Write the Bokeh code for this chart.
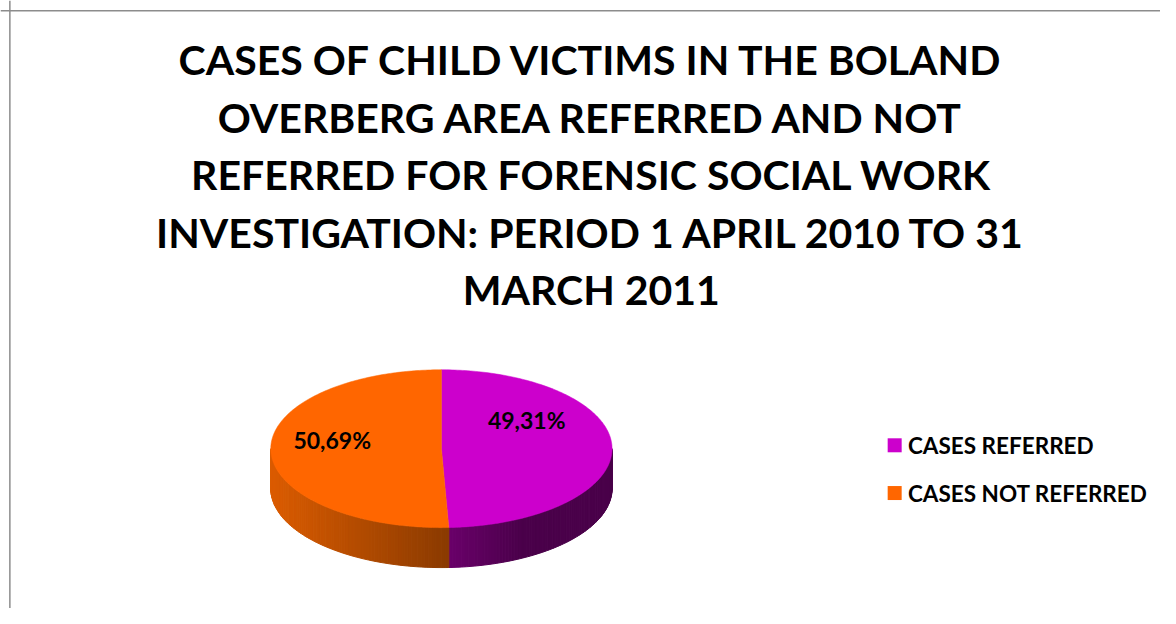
import numpy as np
from bokeh.plotting import figure
from bokeh.models import Range1d, ColumnDataSource, Span
from bokeh.core.properties import value
from bokeh.embed import file_html
from bokeh.resources import INLINE

# ---------------- data ----------------
TITLE_LINES = [
    "CASES OF CHILD VICTIMS IN THE BOLAND",
    "OVERBERG AREA REFERRED AND NOT",
    "REFERRED FOR FORENSIC SOCIAL WORK",
    "INVESTIGATION: PERIOD 1 APRIL 2010 TO 31",
    "MARCH 2011",
]
CATEGORIES = ["CASES REFERRED", "CASES NOT REFERRED"]
PERCENTAGES = [49.31, 50.69]

# ---------------- style ----------------
TOP_COLORS = ["#CC00CC", "#FF6600"]
SIDE_DARK = ["#4A004A", "#8A3A00"]
SIDE_LIGHT = ["#6A006A", "#DB5C00"]
FONT = "Lato"

W, H = 1160, 608
p = figure(width=W, height=H, output_backend="svg", toolbar_location=None,
           x_range=Range1d(0, 1176), y_range=Range1d(624, 0),
           min_border=0, outline_line_color=None)
p.axis.visible = False
p.grid.visible = False
p.background_fill_color = "white"
p.border_fill_color = "white"

# chart frame (left and top edges visible)
p.add_layout(Span(location=9.5, dimension="height", line_color="#8C8C8C", line_width=1.5))
p.add_layout(Span(location=10.5, dimension="width", line_color="#8C8C8C", line_width=1.5))

# ---------------- title ----------------
title_src = ColumnDataSource(dict(
    x=[599] * len(TITLE_LINES),
    y=[61 + 59 * i for i in range(len(TITLE_LINES))],
    t=TITLE_LINES))
p.text(x="x", y="y", text="t", source=title_src, text_font=value(FONT),
       text_font_style="bold", text_font_size="41px", text_align="center",
       text_baseline="middle", text_color="black")

# ---------------- 3D pie ----------------
cx, cy, a, b, depth = 447.0, 460.0, 173.0, 81.0, 41.0
vals = np.array(PERCENTAGES, dtype=float)
fr = vals / vals.sum()
ends = np.cumsum(fr) * 2 * np.pi
starts = np.concatenate([[0.0], ends[:-1]])

def ex(t):
    return cx + a * np.sin(t)

def ey(t, dy=0.0):
    return cy - b * np.cos(t) + dy

def lerp_col(c1, c2, f):
    c1 = [int(c1[i:i + 2], 16) for i in (1, 3, 5)]
    c2 = [int(c2[i:i + 2], 16) for i in (1, 3, 5)]
    return "#%02x%02x%02x" % tuple(int(round(u + (v - u) * f)) for u, v in zip(c1, c2))

# side walls (front half only), shaded strips
xs_s, ys_s, cols_s = [], [], []
for i in range(len(vals)):
    t0 = max(starts[i], np.pi / 2)
    t1 = min(ends[i], 3 * np.pi / 2)
    if t1 <= t0:
        continue
    n = 80
    ts = np.linspace(t0, t1, n + 1)
    xmin, xmax = min(ex(t0), ex(t1)), max(ex(t0), ex(t1))
    for k in range(n):
        ta, tb = ts[k], ts[k + 1]
        xs_s.append([ex(ta), ex(tb), ex(tb), ex(ta)])
        ys_s.append([ey(ta), ey(tb), ey(tb, depth), ey(ta, depth)])
        xm = 0.5 * (ex(ta) + ex(tb))
        f = (xm - xmin) / (xmax - xmin) if xmax > xmin else 0
        if i == 0:
            cols_s.append(lerp_col(SIDE_LIGHT[i], SIDE_DARK[i], min(1.0, f * 2.2)))
        else:
            cols_s.append(lerp_col(SIDE_LIGHT[i], SIDE_DARK[i], f))

p.patches(xs="xs", ys="ys", source=ColumnDataSource(dict(xs=xs_s, ys=ys_s, c=cols_s)),
          fill_color="c", line_color="c", line_width=1)

# top faces
xs_t, ys_t = [], []
for i in range(len(vals)):
    ts = np.linspace(starts[i], ends[i], 200)
    xs_t.append([cx] + list(ex(ts)))
    ys_t.append([cy] + list(ey(ts)))
p.patches(xs="xs", ys="ys", source=ColumnDataSource(dict(xs=xs_t, ys=ys_t, c=TOP_COLORS)),
          fill_color="c", line_color="c", line_width=0.5)

# data labels
LABEL_R = [0.5, 0.64]
LABEL_DY = [-29, -10]
mids = (starts + ends) / 2
lab_x = [cx + LABEL_R[i] * a * np.sin(mids[i]) for i in range(len(vals))]
lab_y = [cy - LABEL_R[i] * b * np.cos(mids[i]) + LABEL_DY[i] for i in range(len(vals))]
lab_t = [("%.2f" % v).replace(".", ",") + "%" for v in vals]
p.text(x="x", y="y", text="t", source=ColumnDataSource(dict(x=lab_x, y=lab_y, t=lab_t)),
       text_font=value(FONT), text_font_style="bold", text_font_size="23px",
       text_align="center", text_baseline="middle", text_color="black")

# legend
leg_y = [456.5 + 49 * i for i in range(len(CATEGORIES))]
p.scatter(x=[906.5] * len(CATEGORIES), y=leg_y, marker="square", size=14,
          fill_color=TOP_COLORS, line_color=None)
p.text(x=[920] * len(CATEGORIES), y=leg_y, text=CATEGORIES, text_font=value(FONT),
       text_font_style="bold", text_font_size="22.5px", text_align="left",
       text_baseline="middle", text_color="black")

open("out.html", "w").write(file_html(p, INLINE))
